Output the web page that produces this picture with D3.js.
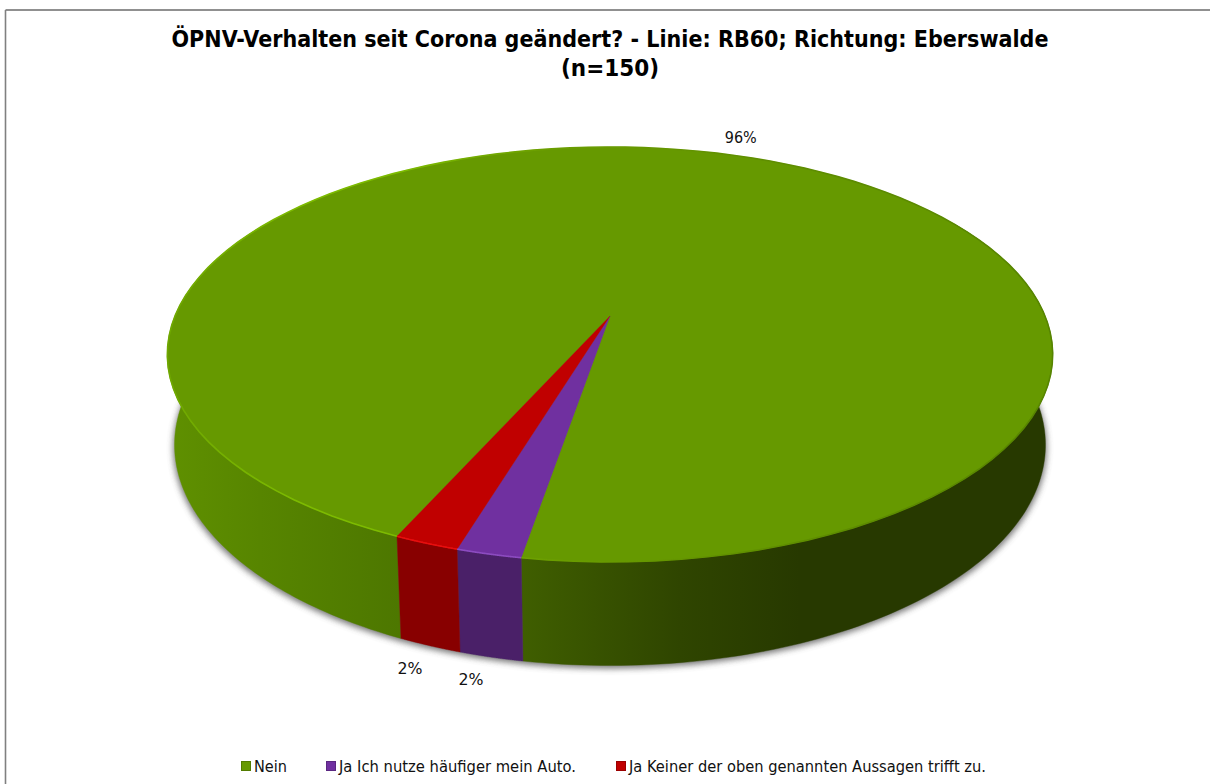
<!DOCTYPE html>
<html><head><meta charset="utf-8">
<script src="https://cdn.jsdelivr.net/npm/d3@7"></script>
<style>html,body{margin:0;padding:0;background:#fff;overflow:hidden}svg{display:block}</style>
</head><body><div id="chart"></div>
<script>
const categories = ["Nein", "Ja Ich nutze häufiger mein Auto.", "Ja Keiner der oben genannten Aussagen trifft zu."];
const values = [96, 2, 2];
const valueLabels = ["96%", "2%", "2%"];
const titleLines = ["ÖPNV-Verhalten seit Corona geändert? - Linie: RB60; Richtung: Eberswalde", "(n=150)"];
const topColors = ["#669900", "#7030A0", "#C00000"];
const wallColors = [null, "#4A2068", "#880000"];
const rimColors = [null, "#8C4CC0", "#E81010"];

const W = 1210, H = 784;
const svg = d3.select("#chart").append("svg").attr("width", W).attr("height", H);
const defs = svg.append("defs");
const FONT = "'DejaVu Sans', Verdana, sans-serif";

// perspective parameters of the tilted disc
const cx = 610, cy = 316, R = 435, S = 200.3, T = 90, K = 0.1855, M = 0.016;
const project = (a, h) => {
  const u = Math.sin(a), v = -Math.cos(a), w = 1 - K * v + M * h;
  return [cx + R * u / w, cy + (S * v + T * h) / w];
};
const rad = d => d * Math.PI / 180;
const pie = d3.pie().sort(null).startAngle(rad(204)).endAngle(rad(564));
const arcs = pie(values);
const line = d3.line();
const sample = (a0, a1, h) => d3.range(0, 121).map(i => project(a0 + (a1 - a0) * i / 120, h));

// gradients
const grad = (id, stops) => {
  const g = defs.append("linearGradient").attr("id", id).attr("gradientUnits", "userSpaceOnUse")
    .attr("x1", 167).attr("x2", 1052).attr("y1", 0).attr("y2", 0);
  stops.forEach(([x, c]) => g.append("stop").attr("offset", (x - 167) / 885).attr("stop-color", c));
};
grad("wallGreen", [[170, "#5F9000"], [260, "#578500"], [400, "#4D7700"], [525, "#3F5E00"], [680, "#2F4500"], [800, "#273900"], [1052, "#273900"]]);
grad("rimGreen", [[167, "#6FA800"], [300, "#7DBB00"], [400, "#7DBB00"], [540, "#6C9F00"], [760, "#5F8E00"], [1052, "#578500"]]);
defs.append("filter").attr("id", "blur").attr("x", "-5%").attr("y", "-5%").attr("width", "110%").attr("height", "110%")
  .append("feGaussianBlur").attr("stdDeviation", 3.2);
defs.append("filter").attr("id", "soft").attr("x", "-5%").attr("y", "-5%").attr("width", "110%").attr("height", "110%")
  .append("feGaussianBlur").attr("stdDeviation", 0.6);

// frame
svg.append("line").attr("x1", 5.5).attr("x2", W).attr("y1", 10).attr("y2", 10).attr("stroke", "#222").attr("stroke-width", 1.2);
svg.append("line").attr("x1", 5.5).attr("x2", 5.5).attr("y1", 10).attr("y2", H).attr("stroke", "#808080").attr("stroke-width", 1.6);

// title
const titleWidths = [877, 98];
svg.append("g").selectAll("text").data(titleLines).join("text")
  .attr("x", 610).attr("y", (d, i) => 47 + i * 29)
  .attr("text-anchor", "middle").attr("font-family", FONT).attr("font-weight", "bold")
  .attr("font-size", 23).attr("fill", "#000").attr("textLength", (d, i) => titleWidths[i])
  .attr("lengthAdjust", "spacingAndGlyphs").text(d => d);

// shadow
svg.append("path").attr("d", line(sample(0, 2 * Math.PI, 1).map(([x, y]) => [cx + (x - cx) * 1.003, y + 3])) + "Z")
  .attr("fill", "#4a4a4a").attr("opacity", 0.75).attr("filter", "url(#blur)");

// side wall (visible front range only)
const visLo = rad(60), visHi = rad(300), full = 2 * Math.PI;
const walls = svg.append("g");
arcs.forEach((d, i) => {
  [0, 1, 2].forEach(k => {
    const lo = Math.max(d.startAngle, visLo + k * full), hi = Math.min(d.endAngle, visHi + k * full);
    if (lo >= hi) return;
    const pts = sample(lo, hi, 0).concat(sample(lo, hi, 1).reverse());
    walls.append("path").attr("d", line(pts) + "Z")
      .attr("fill", wallColors[i] || "url(#wallGreen)")
      .attr("stroke", wallColors[i] || "url(#wallGreen)").attr("stroke-width", 0.4);
  });
});

// top face
const tops = svg.append("g");
arcs.forEach((d, i) => {
  const pts = [[cx, cy]].concat(sample(d.startAngle, d.endAngle, 0));
  tops.append("path").attr("d", line(pts) + "Z").attr("fill", topColors[i])
    .attr("stroke", topColors[i]).attr("stroke-width", 0.3);
});
// bevel on the rim
arcs.forEach((d, i) => {
  svg.append("path").attr("d", line(sample(d.startAngle, d.endAngle, 0))).attr("fill", "none")
    .attr("stroke", rimColors[i] || "url(#rimGreen)").attr("stroke-width", 1.6)
    .attr("filter", "url(#soft)");
});

// value labels, placed just outside the rim at each slice's middle angle
const labelPos = (d) => {
  const mid = (d.startAngle + d.endAngle) / 2;
  const front = Math.cos(mid) < 0;
  const [x, y] = project(mid, front ? 1 : 0);
  return front ? [x - 20, y + 28] : [x + 24, y - 10];
};
const labelWidths = [32, 25, 25];
svg.append("g").selectAll("text").data(arcs).join("text")
  .attr("x", d => labelPos(d)[0]).attr("y", d => labelPos(d)[1])
  .attr("text-anchor", "middle").attr("font-family", FONT).attr("font-size", 15.5).attr("fill", "#111")
  .attr("textLength", (d, i) => labelWidths[i]).attr("lengthAdjust", "spacingAndGlyphs")
  .text((d, i) => valueLabels[i]);

// legend
const legendX = d3.scaleOrdinal().domain(categories).range([241, 326, 616]);
const legendW = [33, 237, 357];
const legend = svg.append("g").selectAll("g").data(categories).join("g")
  .attr("transform", d => `translate(${legendX(d)},761)`);
legend.append("rect").attr("x", 0.5).attr("y", 0.5).attr("width", 9).attr("height", 9)
  .attr("fill", (d, i) => topColors[i])
  .attr("stroke", (d, i) => d3.color(topColors[i]).darker(0.6)).attr("stroke-width", 1);
legend.append("text").attr("x", 13).attr("y", 10.5)
  .attr("font-family", FONT).attr("font-size", 15).attr("fill", "#111")
  .attr("textLength", (d, i) => legendW[i]).attr("lengthAdjust", "spacingAndGlyphs").text(d => d);
</script></body></html>
